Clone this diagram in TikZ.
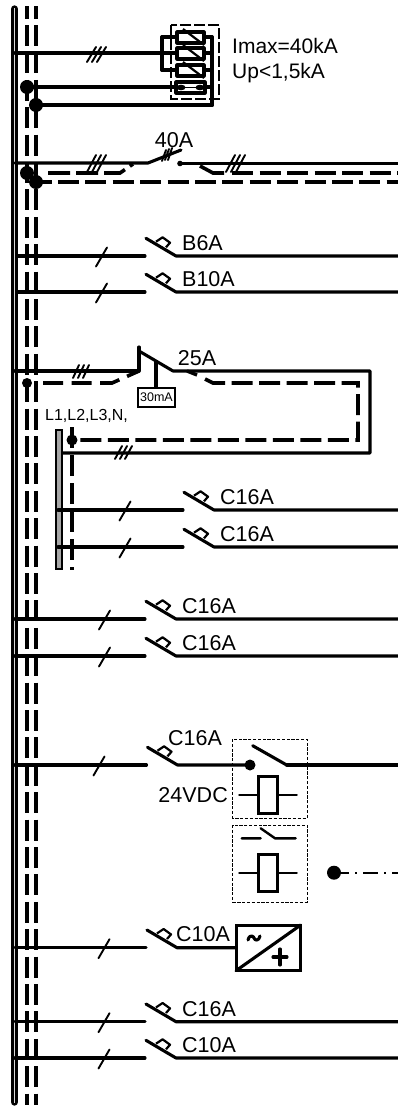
\documentclass[tikz,border=0pt]{standalone}
\usepackage{fontspec}
\setmainfont{Liberation Sans}
\tikzset{
 x=1pt,y=-1pt,
 wire/.style={line width=3.1pt,line cap=round,line join=round},
 thin wire/.style={line width=1.9pt,line cap=round},
 bold wire/.style={line width=3.8pt,line cap=round,line join=round},
 dashwire/.style={line width=3.6pt,dash pattern=on 21pt off 6.4pt},
 boxdash/.style={line width=1pt,dash pattern=on 3.2pt off 1.6pt},
 bigdash/.style={line width=1.6pt,dash pattern=on 11pt off 3pt},
 label/.style={inner sep=0pt,anchor=west,font=\fontsize{21.5}{21.5}\selectfont},
 junction/.style={circle,fill=black,inner sep=0pt,minimum size=#1},
}
% breaker: [#1 right end x] #2 switch start x, #3 row y, #4 bus x, #5 tick x, #6 name, #7 text
\newcommand{\breaker}[7][398]{%
 \draw[wire] (#4,#3) -- (#2-1,#3);
 \draw[wire] (#2,#3-17.7) -- (#2+30,#3) -- (#1,#3);
 \draw[line width=2.2pt,line join=round] (#2+10,#3-14.3) -- (#2+16.6,#3-18.7) -- (#2+24,#3-13.3) -- (#2+20,#3-8.7);
 \draw[thin wire] (#5-5.5,#3+10.5) -- (#5+5.5,#3-8.5);
 \node[label] (#6) at (#2+36,#3-13) {#7};
}
\newcommand{\coil}[1]{%
 \draw[line width=2.6pt] (258.3,#1-18.5) rectangle (277.7,#1+18.5);
 \draw[line width=2.4pt,line cap=round] (239.3,#1) -- (258.3,#1) (277.7,#1) -- (296.7,#1);
}
\begin{document}
\begin{tikzpicture}
\useasboundingbox (0,0) rectangle (398,1106);
% main bus
\draw[line width=7.4pt,line cap=round] (14.5,9) -- (14.5,1102);
\draw[line width=1pt,white!70!gray] (14.5,8) -- (14.5,1103);
\draw[dashwire,dash phase=8.4pt] (27,6) -- (27,1105);
\draw[dashwire,dash phase=8.4pt] (36,6) -- (36,1105);
% surge arrester
\draw[bigdash] (171,25) rectangle (219,99);
\draw[wire] (15,53) -- (162,53);
\draw[bold wire] (162,37) -- (162,70);
\draw[wire] (162,37) -- (177,37) (162,53) -- (177,53) (162,70) -- (177,70);
\draw[wire] (204,37) -- (212,37) (204,53) -- (212,53) (204,70) -- (212,70);
\foreach \yy in {32,48,65}{
 \draw[wire,fill=white] (177,\yy) rectangle (204,\yy+11);
 \draw[line width=2.2pt] (183,\yy-3) -- (204,\yy+13);
}
\draw[bold wire] (212,37) -- (212,105);
\draw[wire] (27,87) -- (212,87);
\draw[bold wire] (36,105) -- (212,105);
\draw[wire,fill=white] (176,82) rectangle (205,93);
\draw[line width=1.5pt] (181,87.5) -- (200,87.5);
\fill (181,87.5) ellipse (4.5pt and 2.8pt) (200,87.5) ellipse (4.5pt and 2.8pt);
\node[junction=14pt] (j1) at (27,87) {};
\node[junction=14pt] (j2) at (36,105) {};
\draw[thin wire] (87,62) -- (96,47) (92,62) -- (101,47) (97,62) -- (106,47);
\node[label,font=\fontsize{21}{21}\selectfont] (imax) at (232,46) {Imax=40kA};
\node[label,font=\fontsize{21}{21}\selectfont] (up) at (232,73) {Up<1,5kA};
% main switch 40A
\draw[wire] (15,163) -- (148,163) -- (181,150);
\fill (180,163.5) circle (2.8pt);
\draw[wire] (180,163.5) -- (398,163.5);
\draw[thin wire] (162,161) -- (166,150) (165,160) -- (169,149) (168,160) -- (172,148);
\node[label,anchor=center] (a40) at (174,140) {40A};
\draw[thin wire] (87,172) -- (96,155) (92,172) -- (101,155) (97,172) -- (106,155);
\draw[thin wire] (226,172) -- (235,155) (231,172) -- (240,155) (236,172) -- (245,155);
\draw[dashwire,dash pattern=on 22pt off 6pt] (48,173) -- (120,173) -- (133,164);
\draw[dashwire,dash pattern=on 26pt off 6pt] (200,166) -- (213,173) -- (226,173);
\draw[dashwire,dash pattern=on 21pt off 6.5pt] (232,173) -- (398,173);
\draw[dashwire,dash phase=5.5pt] (36,182) -- (398,182);
\node[junction=14pt] (j3) at (27,173) {};
\node[junction=14pt] (j4) at (36,182) {};
% B breakers
\breaker{146}{256}{17}{101.5}{b6}{B6A}
\breaker{146}{292}{17}{101.5}{b10}{B10A}
% RCD
\draw[wire] (15,371) -- (139,371) -- (139,347);
\draw[wire] (139,351) -- (173,371) -- (370,371) -- (370,453) -- (58,453);
\draw[wire] (156,362) -- (156,388);
\draw[line width=2pt,fill=white] (138,388) rectangle (175,407);
\node[inner sep=0pt,font=\fontsize{12.5}{13}\selectfont] (ma) at (156.5,397) {30mA};
\node[label,anchor=center] (a25) at (197,358) {25A};
\draw[thin wire] (73,378) -- (79,365) (78,378) -- (84,365) (83,378) -- (89,365);
\draw[thin wire] (115,459) -- (122,446) (120,459) -- (127,446) (125,459) -- (132,446);
\draw[dashwire,dash pattern=on 20pt off 8.5pt] (43,383) -- (112,383) -- (139,371);
\draw[dashwire,line width=3.4pt,solid] (187,371) -- (197,375);
\draw[dashwire,dash pattern=on 21pt off 6.5pt] (205,379) -- (213,383) -- (358,383) -- (358,440) -- (72,440);
\node[junction=10pt] (j5) at (27,383) {};
\node[junction=11pt] (j6) at (72,440) {};
% sub-distribution bar
\draw[line width=1.8pt,fill=gray!70] (56,430) rectangle (62,569);
\draw[line width=2pt,line cap=round] (56,430) -- (62,430) (56,569) -- (62,569);
\draw[dashwire,dash pattern=on 21pt off 7pt] (72,427) -- (72,570);
\node[inner sep=0pt,anchor=west,font=\fontsize{16}{16}\selectfont] (l) at (45,416) {L1,L2,L3,N,};
\breaker{184}{510}{58}{125}{c1}{C16A}
\breaker{184}{547}{58}{125}{c2}{C16A}
% C breakers
\breaker{146}{619}{15}{104.5}{c3}{C16A}
\breaker{146}{656}{15}{104.5}{c4}{C16A}
% contactor
\breaker[250]{147.5}{765}{15}{99}{c5}{}
\node[label] (c5t) at (168,738) {C16A};
\draw[boxdash] (232.7,739) rectangle (307,818);
\draw[wire] (286.7,765) -- (398,765);
\draw[wire] (252.7,745.7) -- (286.7,765);
\node[junction=11pt] (j7) at (250,765) {};
\coil{795}
\node[label,anchor=east] (vdc) at (228,795) {24VDC};
\draw[boxdash] (232.7,825) rectangle (307,902);
\draw[line width=2.4pt,line cap=round] (241.7,838.3) -- (260.7,838.3) (260.7,828.3) -- (275,838.3) -- (295.7,838.3);
\coil{872.7}
\node[junction=14pt] (j8) at (334,872.7) {};
\draw[line width=2.2pt,dash pattern=on 15pt off 6pt on 2pt off 6pt] (j8.center) -- (398,872.7);
% converter
\breaker[236]{147}{947.7}{15}{104}{c6}{}
\node[label] (c6t) at (176,934) {C10A};
\draw[line width=3pt,fill=white] (236,925) rectangle (300.7,970.7);
\draw[wire] (236,970.7) -- (300.7,925);
\draw[wire] (248,940) .. controls (250,933) and (254,937) .. (254,938) .. controls (255,941) and (259,941) .. (260,936);
\draw[wire] (280,949) -- (280,965) (273,957) -- (287,957);
% bottom breakers
\breaker{146}{1021.7}{15}{104}{c7}{C16A}
\breaker{146}{1058}{15}{104}{c8}{C10A}
\end{tikzpicture}
\end{document}
